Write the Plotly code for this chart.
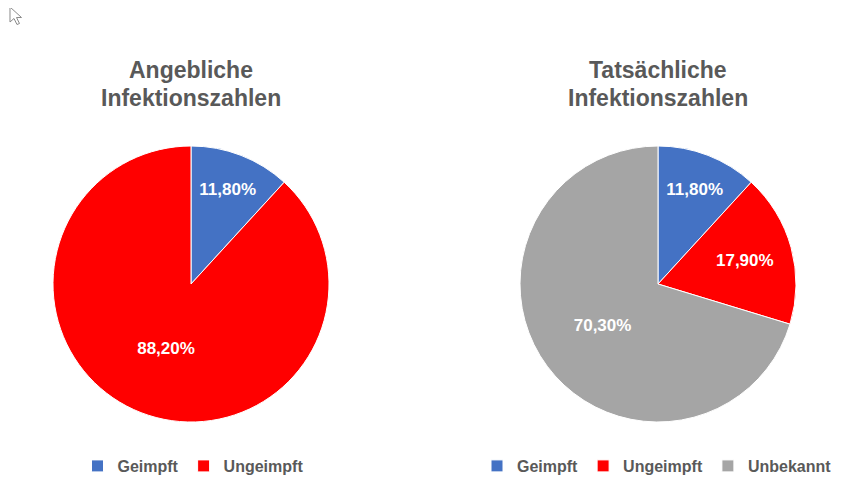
import plotly.graph_objects as go

title_left = ["Angebliche", "Infektionszahlen"]
title_right = ["Tatsächliche", "Infektionszahlen"]

labels_left = ["Geimpft", "Ungeimpft"]
values_left = [11.80, 88.20]

labels_right = ["Geimpft", "Ungeimpft", "Unbekannt"]
values_right = [11.80, 17.90, 70.30]

colors = {"Geimpft": "#4472C4", "Ungeimpft": "#FF0000", "Unbekannt": "#A5A5A5"}

# the page has an 8px body margin; positions below are given in screen pixels
OFF = 8
W, H = 853, 480
FONT = "Liberation Sans, Arial, sans-serif"
GRAY = "#595959"

def fx(x):
    return (x - OFF) / W

def fy(y):
    return 1 - (y - OFF) / H

def dom(x0, x1, y0, y1):
    return dict(x=[fx(x0), fx(x1)], y=[fy(y1), fy(y0)])

# right pie needs its own legend entries (pie legends merge identical labels)
legend_right_ids = [l + "\u200b" for l in labels_right]

fig = go.Figure()
fig.add_trace(go.Pie(
    labels=labels_left, values=values_left, sort=False, direction="clockwise", rotation=0,
    marker=dict(colors=[colors[l] for l in labels_left], line=dict(color="white", width=1)),
    texttemplate="%{value:.2f}%", textposition="inside", insidetextorientation="horizontal",
    textfont=dict(family=FONT, size=17, color="white", weight="bold"),
    domain=dom(53, 329, 146, 422), legend="legend", hoverinfo="label+value",
))
fig.add_trace(go.Pie(
    labels=legend_right_ids, values=values_right, sort=False, direction="clockwise", rotation=0,
    marker=dict(colors=[colors[l] for l in labels_right], line=dict(color="white", width=1)),
    texttemplate="%{value:.2f}%", textposition="inside", insidetextorientation="horizontal",
    textfont=dict(family=FONT, size=17, color="white", weight="bold"),
    domain=dom(520, 796, 146, 422), legend="legend2", hoverinfo="label+value",
))

leg_common = dict(orientation="h", font=dict(family=FONT, size=16, color=GRAY, weight="bold"),
                  yanchor="middle", y=fy(466), xanchor="center", bgcolor="rgba(0,0,0,0)",
                  itemwidth=30, tracegroupgap=0)

annotations = []
for lines, cx in ((title_left, 191), (title_right, 658)):
    for line, cy in zip(lines, (70, 98)):
        annotations.append(dict(
            text=line, x=fx(cx), y=fy(cy), xref="paper", yref="paper",
            xanchor="center", yanchor="middle", showarrow=False,
            font=dict(family=FONT, size=23, color=GRAY, weight="bold")))

# mouse cursor seen in the top-left corner of the screenshot
cursor_pts = [(10, 7), (10, 22), (14, 18.5), (17, 24.5), (19.5, 23.5), (16.5, 17.5), (21.5, 17.5)]
cursor_path = "M " + " L ".join(f"{fx(x):.5f},{fy(y):.5f}" for x, y in cursor_pts) + " Z"

fig.update_layout(
    width=W, height=H, margin=dict(l=0, r=0, t=0, b=0),
    paper_bgcolor="white", plot_bgcolor="white",
    separators=",.",
    legend=dict(x=fx(193), **leg_common),
    legend2=dict(x=fx(657), **leg_common),
    annotations=annotations,
    shapes=[dict(type="path", path=cursor_path, xref="paper", yref="paper",
                 line=dict(color="#8a8a8a", width=1), fillcolor="white")],
)
fig.write_html("out.html")
